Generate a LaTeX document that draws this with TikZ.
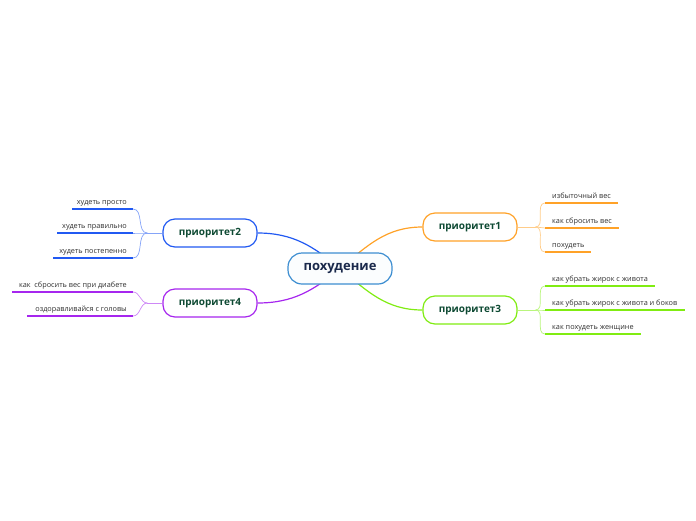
\documentclass[tikz,border=0pt]{standalone}
\usepackage{fontspec}
\setmainfont{Open Sans}
\usetikzlibrary{backgrounds}
\definecolor{bleuclair}{HTML}{3D8ED1}
\definecolor{marine}{HTML}{1B2A4C}
\definecolor{vertfonce}{HTML}{0E4A33}
\definecolor{gristexte}{HTML}{2E2E2E}
\definecolor{orangeun}{HTML}{FFA228}
\definecolor{bleudeux}{HTML}{2159F2}
\definecolor{verttrois}{HTML}{80EC12}
\definecolor{violetquatre}{HTML}{A626EE}
\begin{document}
\begin{tikzpicture}[x=1pt,y=-1pt,
prio/.style={draw=#1, line width=1.2pt, rounded corners=12pt, fill=white,
  minimum width=94pt, minimum height=28pt,
  font=\fontsize{10}{12}\selectfont\bfseries, text=vertfonce},
feuille/.style={font=\fontsize{7.3}{8}\selectfont, text=gristexte, inner sep=0pt},
lien/.style={#1, line width=1.2pt},
branche/.style={#1!55, line width=0.7pt},
trait/.style={#1, line width=2pt}]

\useasboundingbox (0,0) rectangle (696,520);

% Sujet central
\node[draw=bleuclair, line width=1.2pt, rounded corners=14pt, fill=bleuclair!2,
  minimum width=104pt, minimum height=31pt,
  font=\fontsize{13}{15}\selectfont\bfseries, text=marine] (centre) at (340,268.5) {похудение};

% Priorites
\node[prio=orangeun] (prio1) at (470,227) {приоритет1};
\node[prio=verttrois] (prio3) at (470,310) {приоритет3};
\node[prio=bleudeux] (prio2) at (210,233) {приоритет2};
\node[prio=violetquatre] (prio4) at (210,303) {приоритет4};

\begin{scope}[on background layer]
\draw[lien=orangeun] (centre.center) to[out=40,in=180] (prio1.west);
\draw[lien=verttrois] (centre.center) to[out=-40,in=180] (prio3.west);
\draw[lien=bleudeux] (centre.center) to[out=140,in=0] (prio2.east);
\draw[lien=violetquatre] (centre.center) to[out=220,in=0] (prio4.east);
\end{scope}

% Priorite 1
\coordinate (j1) at ([xshift=18]prio1.east);
\draw[branche=orangeun] (prio1.east) -- (j1);
\foreach \n/\y/\l/\t in {
a/203/73/{избыточный вес},
b/228/74/{как сбросить вес},
c/252/46/{похудеть}
}
{
\coordinate (p1\n) at (545,\y);
\draw[branche=orangeun] (j1) to[out=0,in=180] (p1\n);
\draw[trait=orangeun] (p1\n) -- ++(\l,0);
\node[feuille, anchor=base west] (t1\n) at ([shift={(7,-5)}]p1\n) {\t};
}

% Priorite 3
\coordinate (j3) at ([xshift=18]prio3.east);
\draw[branche=verttrois] (prio3.east) -- (j3);
\foreach \n/\y/\l/\t in {
a/286/110/{как убрать жирок с живота},
b/310/140/{как убрать жирок с живота и боков},
c/334/96/{как похудеть женщине}
}
{
\coordinate (p3\n) at (545,\y);
\draw[branche=verttrois] (j3) to[out=0,in=180] (p3\n);
\draw[trait=verttrois] (p3\n) -- ++(\l,0);
\node[feuille, anchor=base west] (t3\n) at ([shift={(7,-5)}]p3\n) {\t};
}

% Priorite 2
\coordinate (j2) at ([xshift=-15]prio2.west);
\draw[branche=bleudeux] (prio2.west) -- (j2);
\foreach \n/\y/\l/\t in {
a/209/61/{худеть просто},
b/233/76/{худеть правильно},
c/258/80/{худеть постепенно}
}
{
\coordinate (p2\n) at (133,\y);
\draw[branche=bleudeux] (j2) to[out=180,in=0] (p2\n);
\draw[trait=bleudeux] (p2\n) -- ++(-\l,0);
\node[feuille, anchor=base east] (t2\n) at ([shift={(-6,-5)}]p2\n) {\t};
}

% Priorite 4
\coordinate (j4) at ([xshift=-15]prio4.west);
\draw[branche=violetquatre] (prio4.west) -- (j4);
\foreach \n/\y/\l/\t in {
a/292/121/{как\ \ сбросить вес при диабете},
b/316/106/{оздоравливайся с головы}
}
{
\coordinate (p4\n) at (133,\y);
\draw[branche=violetquatre] (j4) to[out=180,in=0] (p4\n);
\draw[trait=violetquatre] (p4\n) -- ++(-\l,0);
\node[feuille, anchor=base east] (t4\n) at ([shift={(-6,-5)}]p4\n) {\t};
}

\end{tikzpicture}
\end{document}
